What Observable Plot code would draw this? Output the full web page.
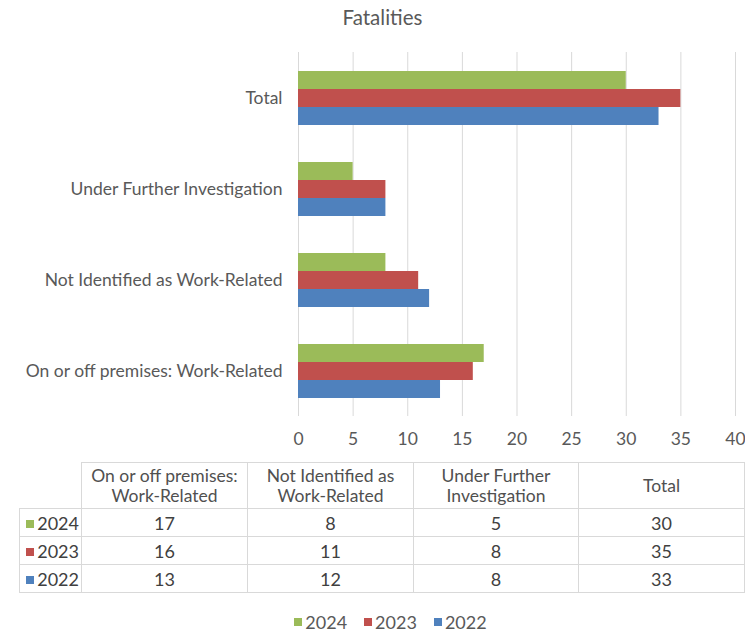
<!DOCTYPE html>
<html>
<head>
<meta charset="utf-8">
<script src="https://cdn.jsdelivr.net/npm/d3@7"></script>
<script src="https://cdn.jsdelivr.net/npm/@observablehq/plot@0.6"></script>
<style>
  html, body { margin: 0; padding: 0; background: #fff; }
  body { width: 745px; height: 636px; position: relative; overflow: hidden; font-family: Lato, "Open Sans", sans-serif; color: #595959; }
  #title { position: absolute; top: 5px; left: 0; width: 745px; padding-left: 20px; box-sizing: border-box; text-align: center; font-size: 20.5px; color: #595959; }
  #chart { position: absolute; top: 40px; left: 0; }
  #tbl { position: absolute; top: 462px; left: 19px; border-collapse: collapse; font-size: 18px; color: #404040; table-layout: fixed; }
  #tbl td, #tbl th { border: 1px solid #d9d9d9; text-align: center; padding: 0; font-weight: normal; overflow: hidden; }
  #tbl th { height: 45px; line-height: 20px; font-size: 17.5px; color: #505050; }
  #tbl td { height: 27px; line-height: 26px; }
  #tbl .corner { border: none; border-bottom: 1px solid #d9d9d9; }
  #tbl .lab { text-align: right; padding-right: 2px; white-space: nowrap; }
  .sw { display: inline-block; width: 8px; height: 8px; margin-right: 3px; vertical-align: 2px; }
  #legend { position: absolute; top: 611px; left: 0; width: 745px; padding-left: 36px; box-sizing: border-box; display: flex; justify-content: center; gap: 17px; font-size: 18px; color: #595959; }
  #legend span.item { display: inline-flex; align-items: center; }
</style>
</head>
<body>
<div id="title">Fatalities</div>
<div id="chart"></div>
<table id="tbl"></table>
<div id="legend"></div>
<script>
const categories = ["On or off premises: Work-Related", "Not Identified as Work-Related", "Under Further Investigation", "Total"];
const tableHeaders = [["On or off premises:", "Work-Related"], ["Not Identified as", "Work-Related"], ["Under Further", "Investigation"], ["Total"]];
const years = ["2024", "2023", "2022"];
const colors = ["#9BBB59", "#C0504D", "#4F81BD"];
const values2024 = [17, 8, 5, 30];
const values2023 = [16, 11, 8, 35];
const values2022 = [13, 12, 8, 33];
const xTicks = [0, 5, 10, 15, 20, 25, 30, 35, 40];

const seriesValues = [values2024, values2023, values2022];
const data = [];
years.forEach((yr, i) => categories.forEach((c, j) => data.push({category: c, year: yr, value: seriesValues[i][j]})));

const chart = Plot.plot({
  width: 745,
  height: 416,
  marginTop: 12,
  marginBottom: 40,
  marginLeft: 298,
  marginRight: 10,
  style: {fontFamily: "Lato, 'Open Sans', sans-serif", fontSize: "17.5px", color: "#595959", background: "white"},
  x: {domain: [0, 40], ticks: xTicks, tickSize: 0, tickPadding: 16, label: null, tickFormat: d => d},
  y: {domain: years, axis: null, paddingInner: 0, paddingOuter: 0.92},
  fy: {domain: categories.slice().reverse(), padding: 0, axis: "left", label: null, tickSize: 0, tickPadding: 16},
  color: {domain: years, range: colors},
  marks: [
    Plot.ruleX(xTicks, {stroke: "#d9d9d9", strokeWidth: 1, strokeOpacity: 1}),
    Plot.barX(data, {x: "value", y: "year", fy: "category", fill: "year"})
  ]
});
document.getElementById("chart").appendChild(chart);

// table
const tbl = document.getElementById("tbl");
const colW = [62, 166, 166, 165, 166];
let html = "<colgroup>" + colW.map(w => "<col style='width:" + w + "px'>").join("") + "</colgroup>";
html += "<tr><th class='corner'></th>";
tableHeaders.forEach(h => { html += "<th>" + h.join("<br>") + "</th>"; });
html += "</tr>";
years.forEach((yr, i) => {
  html += "<tr><td class='lab'><span class='sw' style='background:" + colors[i] + "'></span>" + yr + "</td>";
  seriesValues[i].forEach(v => { html += "<td>" + v + "</td>"; });
  html += "</tr>";
});
tbl.innerHTML = html;

// legend
const leg = document.getElementById("legend");
years.forEach((yr, i) => {
  const s = document.createElement("span");
  s.className = "item";
  s.innerHTML = "<span class='sw' style='background:" + colors[i] + "'></span>" + yr;
  leg.appendChild(s);
});
</script>
</body>
</html>
